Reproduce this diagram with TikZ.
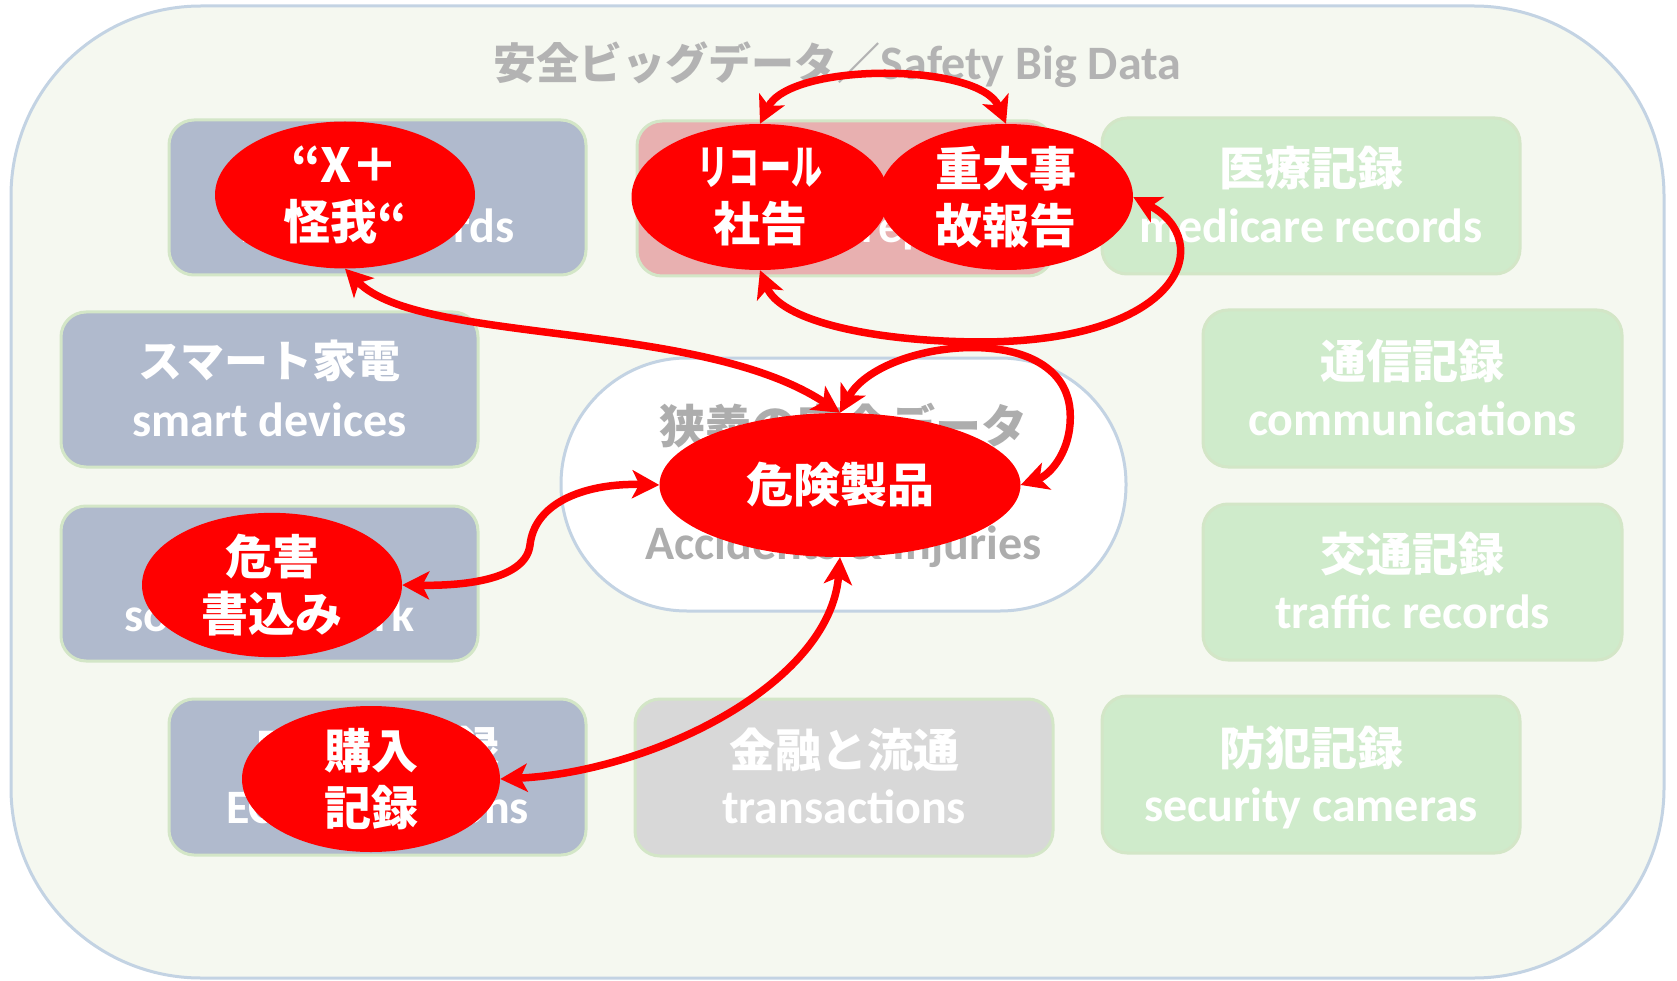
\documentclass[tikz,border=0pt]{standalone}
\usepackage{fontspec}
\setmainfont{Carlito}
\newfontfamily\jp{Noto Sans CJK JP}
\usetikzlibrary{shapes.geometric,arrows.meta}
\definecolor{outerfill}{HTML}{F5F8F0}
\definecolor{outerline}{HTML}{C3D3E3}
\definecolor{bluegray}{HTML}{B0BACD}
\definecolor{pinkbox}{HTML}{E8B0B0}
\definecolor{greenbox}{HTML}{CFEBCB}
\definecolor{graybox}{HTML}{D8D8D8}
\definecolor{boxline}{HTML}{D3E6C7}
\definecolor{titlegray}{HTML}{B3B3B3}
\definecolor{capgray}{HTML}{ADADAD}
\definecolor{hotred}{HTML}{FF0000}
\begin{document}
\begin{tikzpicture}[x=1pt,y=-1pt,
  outerbox/.style={draw=outerline, line width=3pt, fill=outerfill, rounded corners=190pt, minimum width=1653pt, minimum height=972pt, inner sep=0pt},
  databox/.style={draw=boxline, line width=3pt, rounded corners=25pt, minimum width=417pt, minimum height=155pt, inner sep=0pt},
  capsule/.style={draw=outerline, line width=3pt, fill=white, rounded corners=126pt, minimum width=565pt, minimum height=253pt, inner sep=0pt},
  jptext/.style={anchor=base, inner sep=0pt, text=white, font=\jp\bfseries\fontsize{46}{50}\selectfont},
  entext/.style={anchor=base, inner sep=0pt, text=white, font=\bfseries\fontsize{48}{50}\selectfont},
  hot/.style={ellipse, fill=hotred, inner sep=0pt, text=white, align=center, font=\jp\bfseries\fontsize{47}{57}\selectfont},
  link/.style={draw=hotred, line width=7.5pt, {Stealth[length=27pt,width=28pt,inset=7pt]}-{Stealth[length=27pt,width=28pt,inset=7pt]}}
]
\useasboundingbox (0,0) rectangle (1677,981);
\node[outerbox] (bg) at (837.5,492) {};
\node[anchor=base, inner sep=0pt, text=titlegray] (title) at (837.5,80)
  {{\jp\bfseries\fontsize{43}{48}\selectfont 安全ビッグデータ／}{\bfseries\fontsize{48}{50}\selectfont Safety Big Data}};

% data boxes
\node[databox, fill=bluegray] (A) at (377.5,197.5) {};
\node[entext] (A2) at (377.5,243) {injury records};

\node[databox, fill=pinkbox, minimum width=416pt] (B) at (845,198.5) {};
\node[entext] (B2) at (845,243) {accident reports};

\node[databox, fill=greenbox, minimum width=418pt, minimum height=156pt] (C) at (1311,196) {};
\node[jptext] (C1) at (1311,186) {医療記録};
\node[entext] (C2) at (1311,243) {medicare records};

\node[databox, fill=bluegray] (D) at (269.5,389.5) {};
\node[jptext, font=\jp\bfseries\fontsize{44}{50}\selectfont] (D1) at (269.5,377) {スマート家電};
\node[entext] (D2) at (269.5,436) {smart devices};

\node[databox, fill=greenbox, minimum width=419pt, minimum height=157pt] (E) at (1412.5,388.5) {};
\node[jptext] (E1) at (1412.5,378) {通信記録};
\node[entext] (E2) at (1412.5,435) {communications};

\node[databox, fill=bluegray] (F) at (269.5,583.5) {};
\node[entext] (F2) at (269.5,631) {social network};

\node[databox, fill=greenbox, minimum width=419pt, minimum height=156pt] (G) at (1412.5,582) {};
\node[jptext] (G1) at (1412.5,571) {交通記録};
\node[entext] (G2) at (1412.5,628) {traffic records};

\node[databox, fill=bluegray, minimum height=156pt] (H) at (377.5,777) {};
\node[jptext] (H1) at (377.5,765) {EC取引記録};
\node[entext] (H2) at (377.5,823) {EC transactions};

\node[databox, fill=graybox, minimum width=418pt, minimum height=157pt] (I) at (844,777.5) {};
\node[jptext] (I1) at (844,767) {金融と流通};
\node[entext] (I2) at (844,823) {transactions};

\node[databox, fill=greenbox, minimum width=418pt, minimum height=157pt] (J) at (1311,774.5) {};
\node[jptext] (J1) at (1311,765) {防犯記録};
\node[entext] (J2) at (1311,821) {security cameras};

% central capsule
\node[capsule] (N) at (843.5,484.5) {};
\node[anchor=base, inner sep=0pt, text=capgray, font=\jp\bfseries\fontsize{46}{50}\selectfont] (N1) at (843.5,443) {狭義の安全データ};
\node[anchor=base, inner sep=0pt, text=capgray, font=\bfseries\fontsize{48}{50}\selectfont] (N2) at (843.5,559) {Accidents \& Injuries};

% red ellipses
\node[hot, minimum width=260pt, minimum height=147pt] (X1) at (345,195) {“X＋\\怪我“};
\node[hot, minimum width=257pt, minimum height=146pt] (X2) at (760,197) {\scalebox{0.66}[1]{リコール}\\社告};
\node[hot, minimum width=254pt, minimum height=146pt] (X3) at (1006,197) {重大事\\故報告};
\node[hot, minimum width=361pt, minimum height=144pt] (X4) at (840,485) {危険製品};
\node[hot, minimum width=260pt, minimum height=144pt] (X5) at (272,585) {危害\\書込み};
\node[hot, minimum width=258pt, minimum height=146pt] (X6) at (371,779) {購入\\記録};

% connectors
\draw[link] (X2.north) .. controls (790,62) and (980,62) .. (X3.north);
\draw[link] (X1.south) .. controls (420,345) and (700,320) .. (X4.north);
\draw[link] (X2.south) .. controls (780,320) and (870,342) .. (985,342) .. controls (1185,340) and (1215,240) .. (X3.east);
\draw[link] (X4.north) .. controls (880,340) and (1062,318) .. (1070,410) .. controls (1073,450) and (1050,475) .. (X4.east);
\draw[link] (X4.west) .. controls (590,483) and (535,500) .. (530,545) .. controls (526,578) and (470,586) .. (X5.east);
\draw[link] (X4.south) .. controls (830,685) and (650,772) .. (X6.east);
\end{tikzpicture}
\end{document}
